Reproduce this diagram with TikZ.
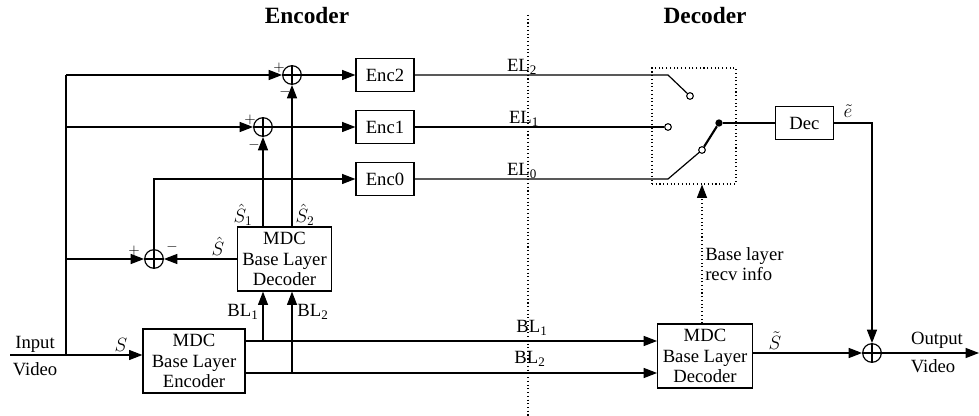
\documentclass[tikz,border=0pt]{standalone}
\usepackage{fontspec}
\setmainfont{Liberation Serif}
\usetikzlibrary{arrows.meta,positioning,calc}
\tikzset{
  >={Triangle[length=10pt,width=7.5pt]},
  box/.style={draw,line width=0.9pt,inner sep=1pt,minimum width=43.5pt,minimum height=25pt,font=\fontsize{14}{15.5}\selectfont,align=center,fill=white},
  bigbox/.style={box,minimum width=71pt,minimum height=48pt},
  sum/.style={circle,draw,line width=0.9pt,inner sep=0pt,minimum size=14pt,
    path picture={\draw[line width=0.9pt] (path picture bounding box.north) -- (path picture bounding box.south)
      (path picture bounding box.west) -- (path picture bounding box.east);}},
  lab/.style={font=\fontsize{14}{15.5}\selectfont,inner sep=0pt,align=left},
  sgn/.style={font=\fontsize{11}{11}\selectfont,inner sep=0pt},
  ttl/.style={font=\fontsize{17.5}{20}\selectfont\bfseries},
  ln/.style={line width=0.9pt},
  arr/.style={->,line width=0.9pt},
  contact/.style={circle,draw,line width=0.8pt,fill=white,inner sep=0pt,minimum size=5pt},
}

\begin{document}
\begin{tikzpicture}[x=0.75pt,y=-0.75pt]
\useasboundingbox (0,0) rectangle (979,416);
\node[ttl] (enctitle) at (307,16) {Encoder};
\node[ttl] (dectitle) at (705,16) {Decoder};
\draw[dotted,line width=0.8pt] (528,15) -- (528,416);

\foreach \i/\y in {2/75,1/127,0/179}{
  \node[box] (enc\i) at (385,\y) {Enc\i};}
\node[sum] (sum1) at (292,75) {};
\node[sum] (sum2) at (263,127) {};
\node[sum] (sum3) at (154,259) {};
\node[bigbox] (bldec) at (284.5,259) {MDC\\Base Layer\\Decoder};
\node[bigbox,minimum width=76.5pt] (blenc) at (194,361) {MDC\\Base Layer\\Encoder};
\node[bigbox] (rxdec) at (705,356) {MDC\\Base Layer\\Decoder};
\node[sum] (sum4) at (872,353) {};
\node[box] (dec) at (804.5,123) {Dec};

\node[draw,dotted,line width=0.8pt,minimum width=63pt,minimum height=87pt] (sw) at (694,126) {};
\node[contact] (c2) at (690,96) {};
\node[contact] (c1) at (668,127) {};
\node[contact] (c0) at (702,150) {};
\node[circle,fill,inner sep=0pt,minimum size=5.5pt] (pivot) at (719,123) {};
\coordinate (k2) at (668,75);
\coordinate (k0) at (668,179);

% input side
\coordinate (in) at (10,355);
\coordinate (tap) at (66,355);
\draw[arr] (in) -- (in -| blenc.west);
\draw[ln] (tap) -- (tap |- sum1);
\draw[arr] (tap |- sum1) -- (sum1);
\draw[arr] (tap |- sum2) -- (sum2);
\draw[arr] (tap |- sum3) -- (sum3);
\draw[arr] (bldec) -- (sum3);
\draw[arr] (sum3) |- (enc0);
\draw[arr] (sum1) -- (enc2);
\draw[arr] (sum2) -- (enc1);
\draw[arr] (sum2 |- bldec.north) -- (sum2);
\draw[arr] (sum1 |- bldec.north) -- (sum1);

\coordinate (bl1) at ([yshift=15pt]blenc.east);
\coordinate (bl2) at ([yshift=-9pt]blenc.east);
\draw[arr] (bl1) -- (bl1 -| rxdec.west);
\draw[arr] (bl2) -- (bl2 -| rxdec.west);
\draw[arr] (bl1 -| sum2) -- (sum2 |- bldec.south);
\draw[arr] (bl2 -| sum1) -- (sum1 |- bldec.south);

% switch
\draw[ln] (enc2) -- (k2) -- (c2);
\draw[ln] (enc1) -- (c1);
\draw[ln] (enc0) -- (k0) -- (c0);
\draw[line width=1.6pt] (c0) -- (pivot);
\draw[ln] (pivot) -- (dec);
\draw[->,dotted,line width=0.8pt] (rxdec.north -| c0) -- (sw.south -| c0);

% output side
\coordinate (out) at (979,353);
\draw[arr] (rxdec.east |- sum4) -- (sum4);
\draw[arr] (dec) -| (sum4);
\draw[arr] (sum4) -- (out);

\node[sgn] at (279,68) {$+$};  \node[sgn] at (285,92) {$-$};
\node[sgn] at (250,120) {$+$}; \node[sgn] at (254,145) {$-$};
\node[sgn] at (134,251) {$+$}; \node[sgn] at (172,247) {$-$};
\node[lab] at (243,215) {$\hat{S}_1$};
\node[lab] at (305,215) {$\hat{S}_2$};
\node[lab] at (218,246) {$\hat{S}$};
\node[lab] at (243,312) {BL\textsubscript{1}};
\node[lab] at (313,312) {BL\textsubscript{2}};
\node[lab] at (121,345) {$S$};
\node[lab] at (522,67) {EL\textsubscript{2}};
\node[lab] at (524,119) {EL\textsubscript{1}};
\node[lab] at (522,171) {EL\textsubscript{0}};
\node[lab] at (532,328) {BL\textsubscript{1}};
\node[lab] at (530,359) {BL\textsubscript{2}};
\node[lab] at (775,341) {$\tilde{S}$};
\node[lab] at (848,111) {$\tilde{e}$};
\node[lab,anchor=west] at (705,264) {Base layer\\recv info};
\node[lab] at (35,344) {Input};
\node[lab] at (35,369) {Video};
\node[lab] at (937,340) {Output};
\node[lab] at (933,366) {Video};
\end{tikzpicture}
\end{document}
